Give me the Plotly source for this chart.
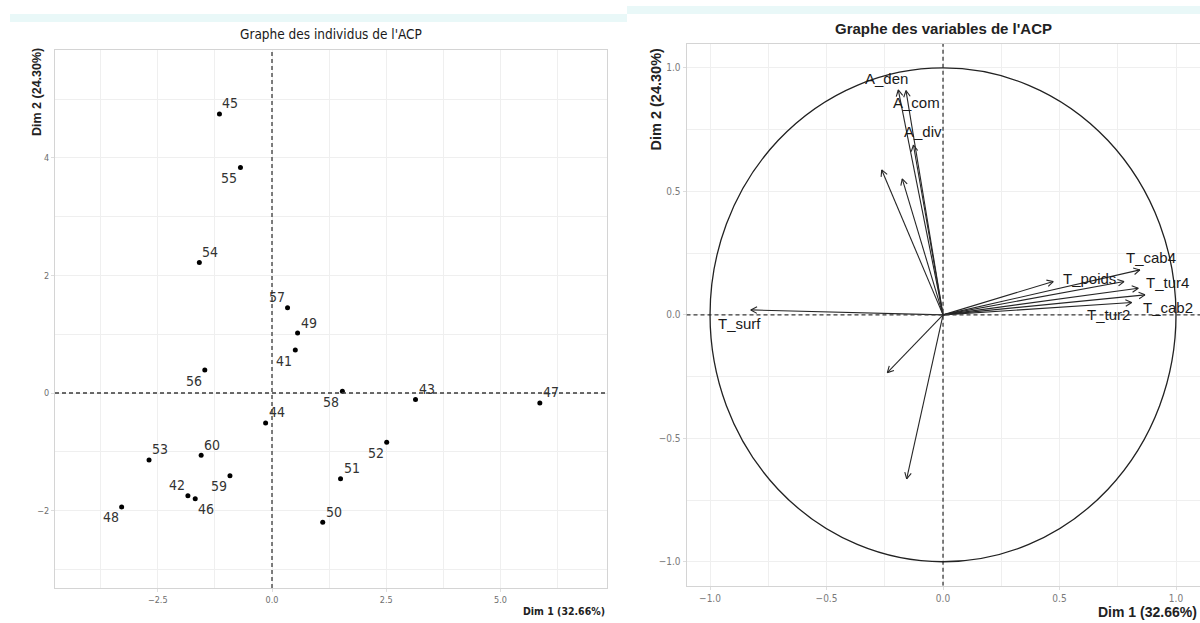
import math
import plotly.graph_objects as go

# ---------------- Individuals (PCA scores) ----------------
ind_ids = ["41", "42", "43", "44", "45", "46", "47", "48", "49", "50",
           "51", "52", "53", "54", "55", "56", "57", "58", "59", "60"]
ind_dim1 = [0.51, -1.84, 3.14, -0.14, -1.15, -1.68, 5.86, -3.29, 0.56, 1.11,
            1.50, 2.51, -2.69, -1.59, -0.69, -1.47, 0.34, 1.54, -0.92, -1.55]
ind_dim2 = [0.73, -1.75, -0.11, -0.51, 4.75, -1.80, -0.17, -1.94, 1.02, -2.20,
            -1.46, -0.84, -1.14, 2.22, 3.84, 0.39, 1.45, 0.03, -1.41, -1.06]
# label side relative to each point
ind_label_side = ["sw", "nw", "ne", "ne", "ne", "se", "ne", "sw", "ne", "ne",
                  "ne", "sw", "ne", "ne", "sw", "sw", "nw", "sw", "sw", "ne"]

# ---------------- Variables (PCA loadings) ----------------
var_names = ["A_den", "A_com", "A_div", "", "", "T_cab4", "T_poids", "",
             "T_tur4", "T_cab2", "T_tur2", "T_surf", "", ""]
var_dim1 = [-0.192, -0.159, -0.127, -0.263, -0.175, 0.845, 0.473, 0.777,
            0.838, 0.867, 0.810, -0.825, -0.239, -0.156]
var_dim2 = [0.911, 0.908, 0.688, 0.587, 0.551, 0.182, 0.135, 0.135,
            0.108, 0.081, 0.050, 0.020, -0.234, -0.664]
# label offsets (px) from arrow tips
var_label_shift = [(-12, 11), (11, -12), (10, 13), (0, 0), (0, 0), (11, 12),
                   (36, 3), (0, 0), (29, 6), (23, -13), (-23, -12), (-11, -14),
                   (0, 0), (0, 0)]

W, H = 1200, 623

# panel geometry
L_DOM_X = [55 / W, 607 / W]
L_DOM_Y = [1 - 588 / H, 1 - 50 / H]
R_DOM_X = [686.5 / W, 1.0]
R_DOM_Y = [1 - 585.7 / H, 1 - 44 / H]
L_RX = [-4.748, 7.330]
L_RY = [-3.319, 5.838]
R_RX = [-1.101, 1.103]
R_RY = [-1.097, 1.097]

NARROW = "Liberation Sans Narrow, Arial Narrow, DejaVu Sans Condensed, sans-serif"
SANS = "Liberation Sans, Arial, Helvetica, sans-serif"
GRID = "#efefef"
BORDER = "#d4d4d4"
DASH = "#3a3a3a"

fig = go.Figure()

# individuals
fig.add_trace(go.Scatter(
    x=ind_dim1, y=ind_dim2, mode="markers",
    marker=dict(color="black", size=5),
    xaxis="x", yaxis="y", hoverinfo="text", text=ind_ids, showlegend=False,
))

# variable arrows: shafts + open heads, built in pixel space of the right panel
kx = (R_DOM_X[1] - R_DOM_X[0]) * W / (R_RX[1] - R_RX[0])
ky = (R_DOM_Y[1] - R_DOM_Y[0]) * H / (R_RY[1] - R_RY[0])
head_len, head_ang = 7.0, math.radians(28)
ax_x, ax_y = [], []
for vx, vy in zip(var_dim1, var_dim2):
    ax_x += [0, vx, None]
    ax_y += [0, vy, None]
    th = math.atan2(vy * ky, vx * kx)
    for s in (1, -1):
        a = th + s * head_ang
        hx = vx - head_len * math.cos(a) / kx
        hy = vy - head_len * math.sin(a) / ky
        ax_x += [hx, vx, None]
        ax_y += [hy, vy, None]
fig.add_trace(go.Scatter(
    x=ax_x, y=ax_y, mode="lines", line=dict(color="#262626", width=1.1),
    xaxis="x2", yaxis="y2", hoverinfo="skip", showlegend=False,
))

annotations = []
side_vec = {"ne": (1, 1), "nw": (-1, 1), "se": (1, -1), "sw": (-1, -1)}
for lab, x, y, side in zip(ind_ids, ind_dim1, ind_dim2, ind_label_side):
    sx, sy = side_vec[side]
    annotations.append(dict(
        x=x, y=y, xref="x", yref="y", text=lab, showarrow=False,
        xshift=11 * sx, yshift=10.5 * sy,
        font=dict(family=NARROW, size=14, color="#333333"),
    ))

for lab, x, y, (dx, dy) in zip(var_names, var_dim1, var_dim2, var_label_shift):
    if not lab:
        continue
    annotations.append(dict(
        x=x, y=y, xref="x2", yref="y2", text=lab, showarrow=False,
        xshift=dx, yshift=dy,
        font=dict(family=SANS, size=15, color="#1a1a1a"),
    ))

# titles
annotations += [
    dict(x=(L_DOM_X[0] + L_DOM_X[1]) / 2, y=1 - 34 / H, xref="paper", yref="paper",
         xanchor="center", yanchor="middle",
         text="Graphe des individus de l'ACP", showarrow=False,
         font=dict(family=NARROW, size=13.5, color="#1a1a1a")),
    dict(x=(R_DOM_X[0] + R_DOM_X[1]) / 2, y=1 - 28 / H, xref="paper", yref="paper",
         xanchor="center", yanchor="middle",
         text="<b>Graphe des variables de l'ACP</b>", showarrow=False,
         font=dict(family=SANS, size=15, color="#222222")),
    dict(x=37 / W, y=1 - 46 / H, xref="paper", yref="paper", xanchor="center", yanchor="top",
         text="<b>Dim 2 (24.30%)</b>", textangle=-90, showarrow=False,
         font=dict(family=SANS, size=12.5, color="#222222")),
    dict(x=655 / W, y=1 - 45 / H, xref="paper", yref="paper", xanchor="center", yanchor="top",
         text="<b>Dim 2 (24.30%)</b>", textangle=-90, showarrow=False,
         font=dict(family=SANS, size=14.5, color="#222222")),
    dict(x=607 / W, y=1 - 611 / H, xref="paper", yref="paper", xanchor="right", yanchor="middle",
         text="<b>Dim 1 (32.66%)</b>", showarrow=False,
         font=dict(family=NARROW, size=10.5, color="#222222")),
    dict(x=1199 / W, y=1 - 612 / H, xref="paper", yref="paper", xanchor="right", yanchor="middle",
         text="<b>Dim 1 (32.66%)</b>", showarrow=False,
         font=dict(family=SANS, size=14, color="#222222")),
]

shapes = [
    # light header bands
    dict(type="rect", xref="paper", yref="paper", x0=10 / W, x1=627 / W,
         y0=1 - 22 / H, y1=1 - 14 / H, fillcolor="#e9f8f8", line=dict(width=0), layer="below"),
    dict(type="rect", xref="paper", yref="paper", x0=627 / W, x1=1.0,
         y0=1 - 14 / H, y1=1 - 6 / H, fillcolor="#e9f8f8", line=dict(width=0), layer="below"),
    # dashed reference lines
    dict(type="line", xref="x", yref="y", x0=0, x1=0, y0=L_RY[0], y1=L_RY[1],
         line=dict(color=DASH, width=1.3, dash="4px,3px")),
    dict(type="line", xref="x", yref="y", x0=L_RX[0], x1=L_RX[1], y0=0, y1=0,
         line=dict(color=DASH, width=1.3, dash="4px,3px")),
    dict(type="line", xref="x2", yref="y2", x0=0, x1=0, y0=R_RY[0], y1=R_RY[1],
         line=dict(color=DASH, width=1.3, dash="4px,3px")),
    dict(type="line", xref="x2", yref="y2", x0=R_RX[0], x1=R_RX[1], y0=0, y1=0,
         line=dict(color=DASH, width=1.3, dash="4px,3px")),
    # correlation circle
    dict(type="circle", xref="x2", yref="y2", x0=-1, x1=1, y0=-1, y1=1,
         line=dict(color="#222222", width=1.3)),
]


def axis(domain, rng, dtick, minor, fmt, anchor, tick_size, tick_color):
    return dict(
        domain=domain, range=rng, anchor=anchor, dtick=dtick, tick0=0,
        tickformat=fmt, showgrid=True, gridcolor=GRID, gridwidth=1,
        minor=dict(dtick=minor, tick0=0, showgrid=True, gridcolor=GRID, gridwidth=0.7),
        zeroline=False, showline=True, mirror=True, linecolor=BORDER, linewidth=1,
        ticks="outside", ticklen=3, tickcolor="#dddddd",
        tickfont=dict(family=NARROW, size=tick_size, color=tick_color),
        fixedrange=True,
    )


fig.update_layout(
    width=W, height=H,
    margin=dict(l=0, r=0, t=0, b=0),
    paper_bgcolor="white", plot_bgcolor="white",
    xaxis=axis(L_DOM_X, L_RX, 2.5, 1.25, ".1f", "y", 9, "#6e6e6e"),
    yaxis=axis(L_DOM_Y, L_RY, 2, 1, "d", "x", 9, "#6e6e6e"),
    xaxis2=axis(R_DOM_X, R_RX, 0.5, 0.25, ".1f", "y2", 10, "#7a7a7a"),
    yaxis2=axis(R_DOM_Y, R_RY, 0.5, 0.25, ".1f", "x2", 10, "#7a7a7a"),
    annotations=annotations,
    shapes=shapes,
    showlegend=False,
)

fig.write_html("out.html")
